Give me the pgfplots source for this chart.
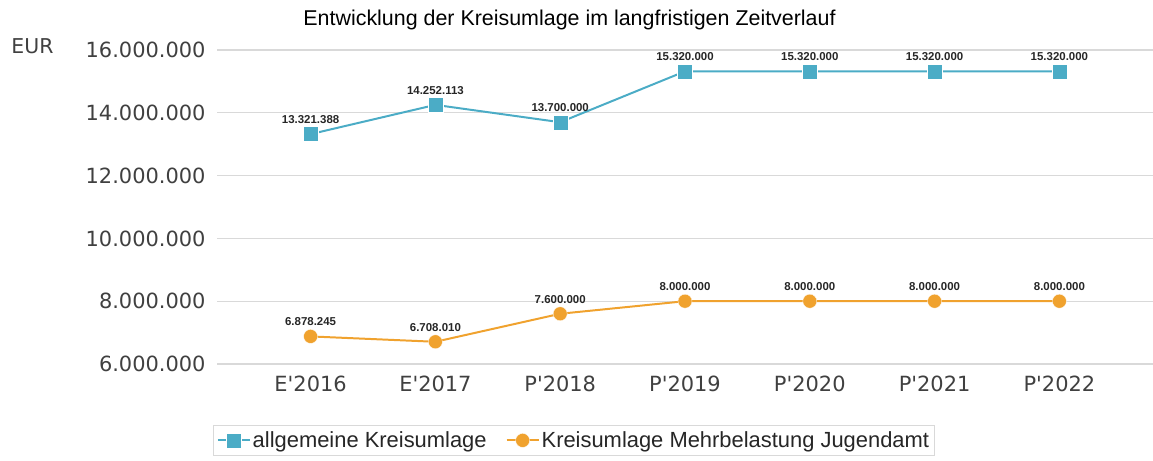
\documentclass[border=0pt]{standalone}
\usepackage{pgfplots}
\pgfplotsset{compat=1.18}
\usepackage{pgfplotstable}
\usepackage{fontspec}
\setmainfont{Liberation Sans}
\newfontfamily\tickfont[Ligatures=ResetAll]{DejaVu Sans}
\definecolor{teal1}{HTML}{4BACC6}
\definecolor{orng}{HTML}{F0A22E}
\definecolor{gridc}{HTML}{D9D9D9}
\definecolor{tickc}{HTML}{404040}

\pgfplotstableread{
x y lab
0 13321388 13.321.388
1 14252113 14.252.113
2 13700000 13.700.000
3 15320000 15.320.000
4 15320000 15.320.000
5 15320000 15.320.000
6 15320000 15.320.000
}\allg
\pgfplotstableread{
x y lab
0 6878245 6.878.245
1 6708010 6.708.010
2 7600000 7.600.000
3 8000000 8.000.000
4 8000000 8.000.000
5 8000000 8.000.000
6 8000000 8.000.000
}\jug

\begin{document}
\begin{tikzpicture}
\path[use as bounding box] (0,0) rectangle (1153bp,461bp);
\node[font=\fontsize{21.5}{24}\selectfont, text=black] at (569.5bp,441bp) {Entwicklung der Kreisumlage im langfristigen Zeitverlauf};
\node[font=\tickfont\fontsize{20.5}{22}\selectfont, text=tickc] at (32.5bp,415bp) {EUR};
\begin{axis}[
  at={(217bp,97bp)}, anchor=south west,
  scale only axis,
  width=936bp, height=314bp,
  xmin=-0.75, xmax=6.75,
  ymin=6000000, ymax=16000000,
  scaled y ticks=false,
  axis line style={draw=none},
  tick style={draw=none},
  ytick={6000000,8000000,10000000,12000000,14000000,16000000},
  yticklabels={6.000.000,8.000.000,10.000.000,12.000.000,14.000.000,16.000.000},
  xtick={0,...,6},
  xticklabels={E'2016,E'2017,P'2018,P'2019,P'2020,P'2021,P'2022},
  ymajorgrids,
  grid style={gridc, line width=1.2pt},
  yticklabel style={font=\tickfont\fontsize{21}{24}\selectfont, text=tickc, xshift=-8bp},
  xticklabel style={font=\tickfont\fontsize{21}{24}\selectfont, text=tickc, yshift=-8bp},
  nodes near coords={\pgfplotspointmeta},
  point meta=explicit symbolic,
  every node near coord/.append style={font=\bfseries\fontsize{11.5}{13}\selectfont, text=black!85, yshift=7bp},
  legend columns=2,
  legend style={at={(-0.004,-0.195)}, anchor=north west, draw=gridc, line width=1pt,
    font=\fontsize{22}{24}\selectfont, text=black!85,
    /tikz/every even column/.append style={column sep=17bp},
    inner xsep=3bp, inner ysep=4bp},
  legend image code/.code={\draw[mark repeat=2,mark phase=2] plot coordinates {(0bp,0bp) (16bp,0bp) (32bp,0bp)};},
]
\addplot[teal1, line width=2pt, mark=square*, mark size=7.5bp, mark options={solid, fill=teal1, draw=white, line width=0.3pt}] table[x=x, y=y, meta=lab] {\allg};
\addlegendentry{allgemeine Kreisumlage}
\addplot[orng, line width=2pt, mark=*, mark size=7bp, mark options={solid, fill=orng, draw=white, line width=0.3pt}] table[x=x, y=y, meta=lab] {\jug};
\addlegendentry{Kreisumlage Mehrbelastung Jugendamt}
\end{axis}
\end{tikzpicture}
\end{document}
